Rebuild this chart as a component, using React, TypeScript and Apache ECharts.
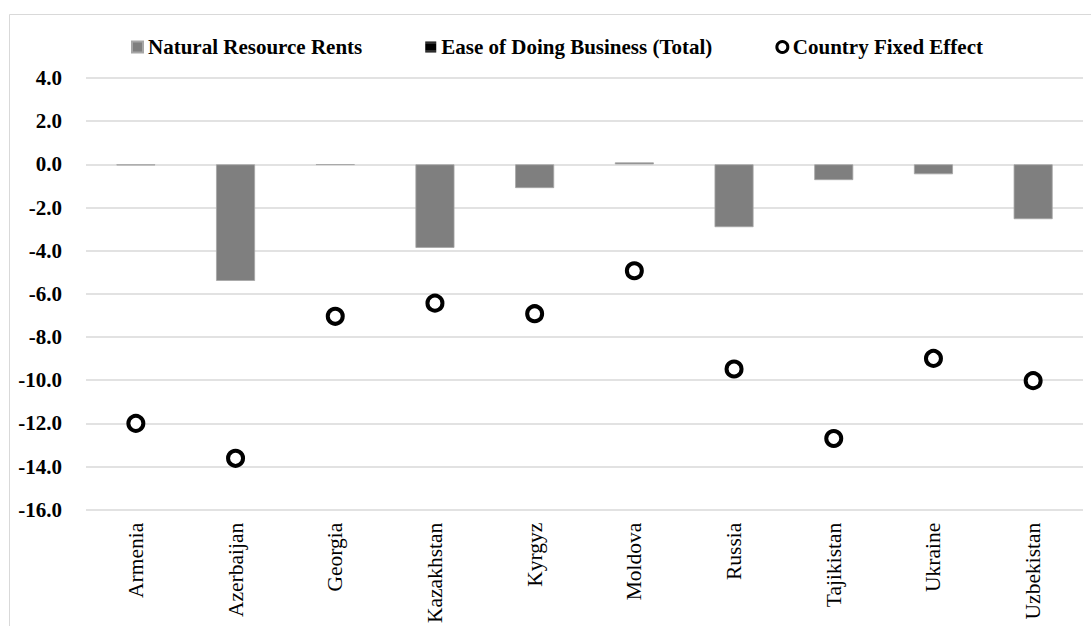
import React, { useEffect, useRef } from "react";
import * as echarts from "echarts";

const categories = ["Armenia", "Azerbaijan", "Georgia", "Kazakhstan", "Kyrgyz", "Moldova", "Russia", "Tajikistan", "Ukraine", "Uzbekistan"];
const naturalResourceRents = [-0.05, -5.4, -0.02, -3.87, -1.1, 0.09, -2.91, -0.73, -0.46, -2.54];
const easeOfDoingBusiness = [0, 0, 0, 0, 0, 0, 0, 0, 0, 0];
const countryFixedEffect = [-12.0, -13.62, -7.04, -6.43, -6.92, -4.93, -9.48, -12.7, -8.99, -10.02];
const yMin = -16;
const yMax = 4;
const yInterval = 2;

const FONT = "'Liberation Serif', 'Times New Roman', serif";

export default function App() {
  const ref = useRef<HTMLDivElement>(null);
  useEffect(() => {
    if (!ref.current) return;
    const chart = echarts.init(ref.current, null, { renderer: "svg" });
    chart.setOption({
      animation: false,
      backgroundColor: "#ffffff",
      textStyle: { fontFamily: FONT },
      graphic: [
        {
          type: "rect",
          shape: { x: 9.5, y: 14.5, width: 1200, height: 800 },
          style: { fill: "none", stroke: "#d9d9d9", lineWidth: 1 },
          silent: true,
          z: -1,
        },
      ],
      legend: {
        left: 131,
        top: 36.5,
        padding: 0,
        itemWidth: 11,
        itemHeight: 11,
        itemGap: 63,
        textStyle: { fontFamily: FONT, fontWeight: "bold", fontSize: 21, color: "#000" },
        data: [
          { name: "Natural Resource Rents", icon: "rect" },
          { name: "Ease of Doing Business (Total)", icon: "rect" },
          { name: "Country Fixed Effect", icon: "circle", itemStyle: { color: "#fff", borderColor: "#000", borderWidth: 3 } },
        ],
      },
      grid: { left: 86, right: 8, top: 78, bottom: 109.3, containLabel: false },
      xAxis: {
        type: "category",
        data: categories,
        position: "bottom",
        axisLine: { show: false, onZero: false },
        axisTick: { show: false },
        axisLabel: { rotate: 90, margin: 13, fontFamily: FONT, fontSize: 21.5, color: "#000" },
      },
      yAxis: {
        type: "value",
        min: yMin,
        max: yMax,
        interval: yInterval,
        axisLine: { show: false },
        axisTick: { show: false },
        splitLine: { lineStyle: { color: "#d9d9d9", width: 1.5 } },
        axisLabel: {
          margin: 24,
          fontFamily: FONT,
          fontSize: 21,
          fontWeight: "bold",
          color: "#000",
          formatter: (v: number) => v.toFixed(1),
        },
      },
      series: [
        {
          name: "Natural Resource Rents",
          type: "bar",
          data: naturalResourceRents,
          barWidth: 39,
          barGap: "-100%",
          itemStyle: { color: "#7f7f7f", borderColor: "#a6a6a6", borderWidth: 0.8 },
        },
        {
          name: "Ease of Doing Business (Total)",
          type: "bar",
          data: easeOfDoingBusiness,
          barWidth: 39,
          barGap: "-100%",
          itemStyle: {
            color: "#000",
            decal: {
              symbol: "rect",
              symbolSize: 0.35,
              color: "#ffffff",
              dashArrayX: [1, 0],
              dashArrayY: [3, 5],
              rotation: 0,
            },
          },
        },
        {
          name: "Country Fixed Effect",
          type: "scatter",
          data: countryFixedEffect,
          symbol: "circle",
          symbolSize: 15,
          itemStyle: { color: "#ffffff", borderColor: "#000000", borderWidth: 4, opacity: 1 },
          z: 5,
        },
      ],
    });
    return () => chart.dispose();
  }, []);
  return (
    <div
      ref={ref}
      style={{ position: "fixed", left: 0, top: 0, width: 1091, height: 626, background: "#fff" }}
    />
  );
}
